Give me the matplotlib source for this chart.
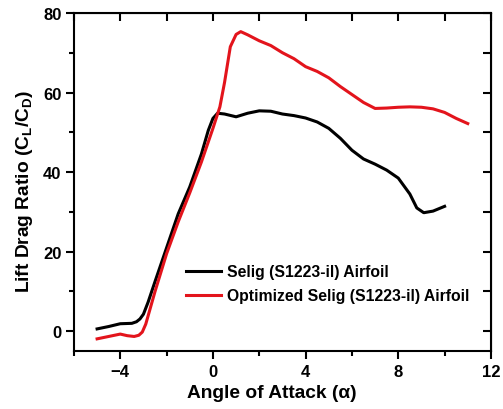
import numpy as np
import matplotlib.pyplot as plt
from matplotlib.ticker import MultipleLocator

# ------------------------------------------------------------
# Data
# ------------------------------------------------------------

selig_alpha = [-5.0, -4.5, -4.0, -3.5, -3.3, -3.15, -3.0, -2.8, -2.5, -2.0,
               -1.5, -1.0, -0.5, -0.2, 0.0, 0.2, 0.5, 1.0, 1.5, 2.0,
               2.5, 3.0, 3.5, 4.0, 4.5, 5.0, 5.5, 6.0, 6.5, 7.0,
               7.5, 8.0, 8.5, 8.8, 9.1, 9.5, 10.0]
selig_ratio = [0.6, 1.2, 1.9, 2.0, 2.4, 3.1, 4.3, 7.3, 12.5, 21.0,
               29.5, 36.3, 44.5, 50.5, 53.5, 54.8, 54.6, 53.9, 54.8, 55.4,
               55.3, 54.6, 54.2, 53.6, 52.6, 51.0, 48.5, 45.5, 43.3, 42.0,
               40.5, 38.5, 34.5, 31.0, 29.8, 30.2, 31.4]

opt_alpha = [-5.0, -4.5, -4.0, -3.7, -3.4, -3.2, -3.05, -2.9, -2.5, -2.0,
             -1.5, -1.0, -0.5, 0.0, 0.3, 0.5, 0.75, 1.0, 1.2, 1.5,
             2.0, 2.5, 3.0, 3.5, 4.0, 4.5, 5.0, 5.5, 6.0, 6.5,
             7.0, 7.5, 8.0, 8.5, 9.0, 9.5, 10.0, 10.5, 11.0]
opt_ratio = [-1.9, -1.3, -0.7, -1.1, -1.3, -1.0, -0.2, 1.8, 10.0, 19.5,
             27.5, 34.8, 42.5, 51.0, 56.4, 62.5, 71.5, 74.6, 75.3, 74.5,
             73.0, 71.8, 70.0, 68.5, 66.5, 65.3, 63.7, 61.5, 59.5, 57.5,
             56.0, 56.1, 56.3, 56.4, 56.3, 55.9, 55.0, 53.5, 52.2]

labels = ["Selig (S1223-il) Airfoil", "Optimized Selig (S1223-il) Airfoil"]

# ------------------------------------------------------------
# Style
# ------------------------------------------------------------

plt.rcParams["font.family"] = ["Liberation Sans", "DejaVu Sans"]
plt.rcParams["font.weight"] = "bold"
plt.rcParams["mathtext.fontset"] = "custom"
plt.rcParams["mathtext.rm"] = "Liberation Sans:bold"
plt.rcParams["mathtext.it"] = "Liberation Sans:bold"
plt.rcParams["mathtext.bf"] = "Liberation Sans:bold"

fig = plt.figure(figsize=(5.03, 4.10), dpi=100)
ax = fig.add_axes([0.147, 0.141, 0.829, 0.825])

ax.plot(selig_alpha, selig_ratio, color="black", lw=2.2, label=labels[0],
        solid_joinstyle="round")
ax.plot(opt_alpha, opt_ratio, color="#e3141c", lw=2.2, label=labels[1],
        solid_joinstyle="round")

ax.set_xlim(-6, 12)
ax.set_ylim(-5, 80)

ax.xaxis.set_major_locator(MultipleLocator(4))
ax.xaxis.set_minor_locator(MultipleLocator(2))
ax.yaxis.set_major_locator(MultipleLocator(20))
ax.yaxis.set_minor_locator(MultipleLocator(10))
ax.set_xticks([-4, 0, 4, 8, 12])

for s in ax.spines.values():
    s.set_linewidth(1.5)

ax.tick_params(which="major", direction="out", length=6, width=1.5,
               labelsize=12, pad=3)
ax.tick_params(which="minor", direction="out", length=3.5, width=1.5)

# mirrored inward ticks on top and right
top = ax.secondary_xaxis("top")
top.set_xticks(np.arange(-6, 13, 2))
top.tick_params(direction="in", length=6, width=1.5, labeltop=False)
right = ax.secondary_yaxis("right")
right.set_yticks(np.arange(0, 81, 10))
right.tick_params(direction="in", length=6, width=1.5, labelright=False)

ax.set_xlabel("Angle of Attack (\u03b1)", fontsize=13.8, fontweight="bold")
ax.xaxis.set_label_coords(0.475, -0.098)
ax.set_ylabel(r"Lift Drag Ratio (C$_\mathrm{L}$/C$_\mathrm{D}$)",
              fontsize=13.8, fontweight="bold")
ax.yaxis.set_label_coords(-0.094, 0.476)

ax.legend(loc="upper left", bbox_to_anchor=(0.253, 0.275), frameon=False,
          fontsize=11.3, handlelength=2.23, handletextpad=0.38,
          labelspacing=0.56, borderaxespad=0)

fig.savefig("out.png", dpi=100)
